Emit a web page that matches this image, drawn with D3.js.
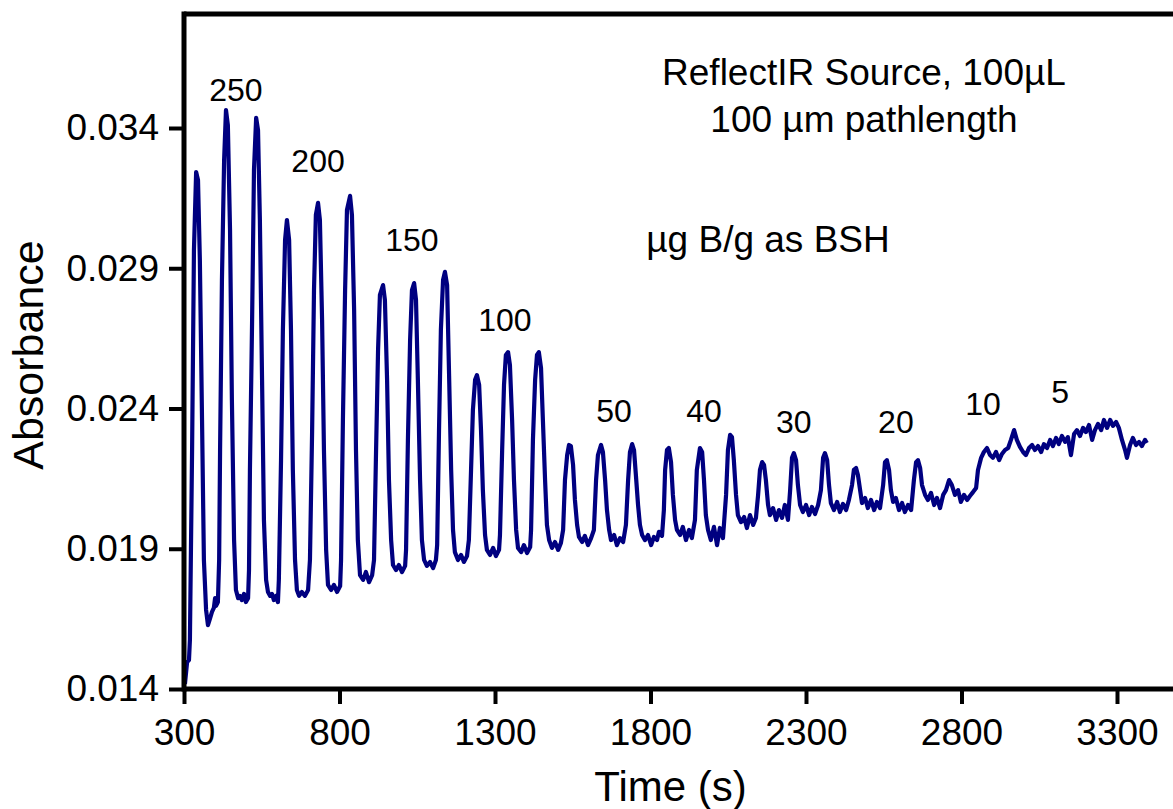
<!DOCTYPE html>
<html>
<head>
<meta charset="utf-8">
<script src="https://cdn.jsdelivr.net/npm/d3@7"></script>
<style>
  body { margin: 0; background: #fff; }
  svg text { font-family: "Liberation Sans", Arial, sans-serif; fill: #000; }
</style>
</head>
<body>
<div id="chart"></div>
<script>
// time (s) and absorbance
const time = [303,310,316,319,326,332,339,345,351,358,364,371,377,384,390,396,400,403,409,413,
  416,422,429,435,441,448,454,461,467,474,480,486,493,499,506,509,
  512,519,525,532,538,544,551,557,564,570,577,583,589,596,602,605,
  612,618,625,631,638,644,650,657,663,670,679,689,699,705,
  712,718,724,731,737,744,750,757,763,773,782,792,802,805,
  811,818,824,834,840,847,853,859,866,876,885,895,905,911,
  917,924,930,940,946,953,959,966,972,982,991,1001,1011,1014,
  1020,1027,1033,1040,1046,1052,1059,1065,1072,1081,1091,1101,1110,1114,
  1120,1126,1133,1139,1146,1152,1159,1165,1171,1181,1191,1200,1210,1216,
  1223,1229,1236,1242,1249,1255,1261,1268,1274,1284,1294,1303,1313,1316,
  1323,1329,1335,1342,1348,1355,1361,1368,1374,1384,1393,1403,1413,1416,
  1422,1429,1435,1441,1448,1454,1461,1467,1474,1483,1493,1503,1512,1519,
  1525,1532,1538,1544,1551,1557,1564,1570,1580,1589,1599,1609,1618,
  1625,1631,1641,1647,1654,1660,1667,1673,1683,1692,1702,1712,1721,
  1728,1734,1741,1747,1753,1760,1766,1773,1782,1792,1802,1811,1821,1827,1837,1843,
  1847,1853,1859,1866,1872,1879,1885,1895,1904,1914,1924,1933,1943,
  1949,1959,1966,1972,1978,1985,1994,2004,2014,2023,2033,2043,
  2049,2056,2062,2068,2075,2081,2091,2101,2110,2120,2130,2139,2146,
  2152,2159,2165,2171,2178,2184,2194,2204,2213,2223,2232,2242,2249,
  2255,2261,2268,2274,2281,2290,2300,2310,2319,2329,2339,2348,
  2355,2361,2368,2374,2380,2390,2400,2409,2419,2429,2438,2448,
  2454,2461,2467,2474,2480,2490,2499,2509,2519,2528,2538,2548,
  2554,2560,2567,2573,2580,2589,2599,2609,2618,2628,2638,2647,
  2654,2660,2667,2673,2683,2692,2702,2712,2721,2731,2741,2750,2760,2769,2779,2789,2798,2808,2818,2827,2837,2847,
  2853,2863,2872,2882,2892,2901,2911,2921,2930,2940,2950,2959,2969,2978,2988,2998,3007,3017,3027,3036,3046,3056,
  3065,3075,3085,3094,3104,3113,3123,3133,3142,3152,3162,3171,3181,3191,3200,3210,3220,3229,3239,3249,3258,3268,
  3278,3287,3297,3306,3316,3326,3332,3342,3351,3361,3371,3380,3390,3396]

const absorbance = [0.01418,0.01496,0.01503,0.01575,0.02252,0.02965,0.03243,0.03215,0.02929,0.02359,0.0186,0.01682,0.01628,0.01653,0.01675,0.01689,0.01724,0.01696,0.0171,0.0186,
  0.02252,0.02858,0.03286,0.03464,0.03411,0.03036,0.0243,0.01931,0.01753,0.01724,0.01732,0.01717,0.01739,0.0171,0.01724,0.01824,
  0.02181,0.02716,0.0325,0.03436,0.03393,0.03072,0.02502,0.02003,0.01789,0.01746,0.01732,0.01739,0.01717,0.01732,0.0171,0.01789,
  0.02216,0.0268,0.03001,0.03072,0.03001,0.0268,0.02181,0.0186,0.01753,0.01732,0.01746,0.01732,0.01753,0.0186,
  0.02323,0.02822,0.0309,0.03133,0.03072,0.02716,0.02252,0.01896,0.01771,0.01753,0.01771,0.01746,0.01767,0.0186,
  0.02359,0.02822,0.03108,0.03158,0.0309,0.02751,0.02252,0.01931,0.01806,0.01789,0.01817,0.01781,0.01806,0.0186,
  0.02216,0.02609,0.02805,0.0284,0.02787,0.02502,0.02145,0.01931,0.01842,0.01824,0.01842,0.01817,0.01839,0.01896,
  0.02288,0.02644,0.02822,0.02847,0.02787,0.02502,0.02145,0.01931,0.0186,0.01839,0.01853,0.01831,0.0186,0.01913,
  0.02323,0.0268,0.02858,0.02887,0.0284,0.02537,0.02181,0.01967,0.01888,0.0186,0.01878,0.01853,0.01874,0.01931,
  0.02181,0.02395,0.02502,0.02519,0.02484,0.02323,0.02109,0.01949,0.01896,0.01878,0.01903,0.01874,0.01896,0.01949,
  0.02252,0.02484,0.02591,0.02601,0.02555,0.02359,0.02145,0.01967,0.01903,0.01888,0.01913,0.01885,0.01906,0.01967,
  0.02288,0.02502,0.02591,0.02601,0.02544,0.02359,0.02145,0.01985,0.01931,0.01903,0.01924,0.01896,0.01921,0.01967,
  0.02145,0.02234,0.0227,0.02266,0.02199,0.02074,0.01985,0.01942,0.01924,0.01946,0.01913,0.01938,0.01967,
  0.02145,0.02234,0.0227,0.02245,0.02145,0.02038,0.01967,0.01931,0.01949,0.01913,0.01938,0.01924,0.01985,
  0.02145,0.02245,0.02273,0.02252,0.02163,0.02056,0.01985,0.01949,0.01931,0.01949,0.01913,0.01942,0.01931,0.0196,0.01946,0.02038,
  0.02181,0.02252,0.02259,0.02209,0.02092,0.02003,0.01967,0.01949,0.01978,0.01931,0.01967,0.01938,0.02003,
  0.02181,0.02259,0.02245,0.02145,0.0202,0.01967,0.01931,0.01978,0.01913,0.01974,0.01938,0.02092,
  0.02252,0.02306,0.02298,0.02216,0.02092,0.0202,0.01995,0.02013,0.01974,0.0202,0.01985,0.0201,0.02092,
  0.02181,0.02209,0.02199,0.02145,0.02056,0.0202,0.02045,0.02003,0.02038,0.0201,0.02056,0.02003,0.02109,
  0.02224,0.02241,0.02216,0.02127,0.02056,0.02031,0.02056,0.0202,0.02049,0.02024,0.02056,0.02109,
  0.02224,0.02241,0.02216,0.02127,0.02063,0.02038,0.02067,0.02031,0.0206,0.02038,0.02074,0.02127,
  0.02181,0.02188,0.02163,0.02109,0.02063,0.02081,0.02045,0.02074,0.02038,0.02067,0.02045,0.02127,
  0.02209,0.02216,0.02181,0.02109,0.02067,0.02081,0.02038,0.02063,0.02031,0.02056,0.02038,0.02145,
  0.02209,0.02216,0.02188,0.02127,0.02092,0.02074,0.02099,0.02056,0.02081,0.02045,0.02092,0.02109,0.02145,0.02127,0.02092,0.02109,0.02067,0.02092,0.02074,0.02088,0.02102,0.02117,
  0.02181,0.02224,0.02245,0.02259,0.02234,0.02224,0.02245,0.02216,0.02238,0.02252,0.02259,0.02288,0.02323,0.02288,0.02263,0.02245,0.02234,0.02259,0.0227,0.02252,0.02266,0.02245,
  0.02273,0.02259,0.02288,0.02266,0.02295,0.02273,0.02302,0.02281,0.02298,0.02234,0.02309,0.02323,0.02302,0.02331,0.02316,0.02341,0.02288,0.02323,0.02345,0.02323,0.02359,0.02331,
  0.02359,0.02338,0.02352,0.02331,0.02288,0.02252,0.02224,0.0227,0.02295,0.0227,0.02281,0.02266,0.02288,0.02277]

// concentration labels (µg B/g) and where they sit
const concLabels = ["250","200","150","100","50","40","30","20","10","5"]
const concTime = [467,731,1033,1332,1683,1972,2261,2589,2869,3117]
const concAbs = [0.03496,0.03243,0.02962,0.02676,0.02352,0.02352,0.02313,0.02313,0.02377,0.0242]

const xTicks = [300,800,1300,1800,2300,2800,3300]
const yTicks = [0.014,0.019,0.024,0.029,0.034]

const noteLines = ["ReflectIR Source, 100µL", "100 µm pathlength"]
const noteUnits = "µg B/g as BSH"

const W = 1173, H = 809

const svg = d3.select("#chart").append("svg")
    .attr("width", W)
    .attr("height", H)

const x = d3.scaleLinear().domain([300, 3300]).range([184, 1117])
const y = d3.scaleLinear().domain([0.014, 0.034]).range([689, 128])

const yTop = y.invert(14)
const xEnd = x.invert(W + 5)

// trace
const pts = time.map((t, i) => [t, absorbance[i]])
svg.append("path")
    .datum(pts)
    .attr("fill", "none")
    .attr("stroke", "#000080")
    .attr("stroke-width", 4.2)
    .attr("stroke-linejoin", "round")
    .attr("d", d3.line()
        .x(d => x(d[0]))
        .y(d => y(d[1])))

// axes
let xAxis = svg.append("g")
    .attr("transform", "translate(0," + y(0.014) + ")")
    .call(d3.axisBottom(x)
        .tickValues(xTicks)
        .tickSizeInner(15)
        .tickSizeOuter(0)
        .tickPadding(15)
        .tickFormat(d3.format("d")))
xAxis.select(".domain").remove()
xAxis.selectAll(".tick line").attr("stroke", "#000").attr("stroke-width", 4)
xAxis.selectAll(".tick text").style("font-size", "37px")

let yAxis = svg.append("g")
    .attr("transform", "translate(" + x(300) + ",0)")
    .call(d3.axisLeft(y)
        .tickValues(yTicks)
        .tickSizeInner(15)
        .tickSizeOuter(0)
        .tickPadding(10)
        .tickFormat(d3.format(".3f")))
yAxis.select(".domain").remove()
yAxis.selectAll(".tick line").attr("stroke", "#000").attr("stroke-width", 4)
yAxis.selectAll(".tick text").style("font-size", "37px")

// frame lines (left, bottom, top)
svg.append("line")
    .attr("x1", x(300)).attr("x2", x(300))
    .attr("y1", y(yTop) - 2.5).attr("y2", y(0.014) + 2.5)
    .attr("stroke", "#000").attr("stroke-width", 5)
svg.append("line")
    .attr("x1", x(300)).attr("x2", x(xEnd))
    .attr("y1", y(0.014)).attr("y2", y(0.014))
    .attr("stroke", "#000").attr("stroke-width", 5)
svg.append("line")
    .attr("x1", x(300)).attr("x2", x(xEnd))
    .attr("y1", y(yTop)).attr("y2", y(yTop))
    .attr("stroke", "#000").attr("stroke-width", 5)

// axis titles
svg.append("text")
    .attr("x", (x(300) + x(3300)) / 2 + 20)
    .attr("y", 801)
    .attr("text-anchor", "middle")
    .style("font-size", "42px")
    .text("Time (s)")

svg.append("text")
    .attr("transform", "translate(43," + 355 + ") rotate(-90)")
    .attr("text-anchor", "middle")
    .style("font-size", "43px")
    .text("Absorbance")

// concentration labels
svg.selectAll(".conc")
    .data(concLabels)
    .enter().append("text")
    .attr("class", "conc")
    .attr("x", (d, i) => x(concTime[i]))
    .attr("y", (d, i) => y(concAbs[i]))
    .attr("text-anchor", "middle")
    .style("font-size", "32px")
    .text(d => d)

// notes
svg.selectAll(".note")
    .data(noteLines)
    .enter().append("text")
    .attr("class", "note")
    .attr("x", 864)
    .attr("y", (d, i) => 85 + i * 47)
    .attr("text-anchor", "middle")
    .style("font-size", "37px")
    .text(d => d)

svg.append("text")
    .attr("x", 768)
    .attr("y", 252)
    .attr("text-anchor", "middle")
    .style("font-size", "37px")
    .text(noteUnits)
</script>
</body>
</html>
